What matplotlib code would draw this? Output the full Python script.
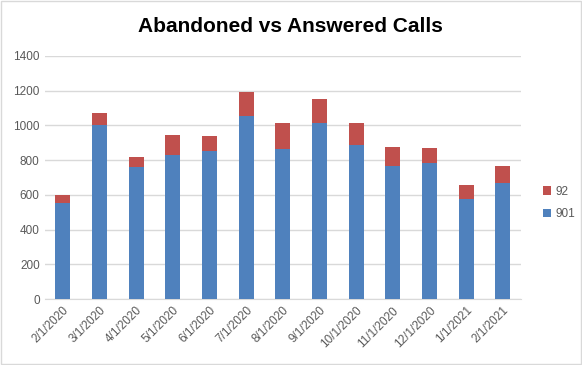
import matplotlib.pyplot as plt
import numpy as np

# monthly call counts
months = ['2/1/2020', '3/1/2020', '4/1/2020', '5/1/2020', '6/1/2020', '7/1/2020', '8/1/2020',
          '9/1/2020', '10/1/2020', '11/1/2020', '12/1/2020', '1/1/2021', '2/1/2021']
calls_901 = [553, 1002, 760, 830, 853, 1056, 864, 1014, 887, 768, 784, 576, 668]
calls_92 = [46, 71, 58, 115, 86, 137, 150, 138, 127, 108, 86, 81, 98]

plt.rcParams['font.family'] = ['Liberation Sans', 'DejaVu Sans']

fig = plt.figure(figsize=(5.82, 3.65), dpi=100)
ax = fig.add_axes([44.6 / 582, 1 - 299 / 365, (521 - 44.6) / 582, (299 - 56) / 365])

x = np.arange(len(months))
b1 = ax.bar(x, calls_901, width=0.41, color='#4f81bd', label='901', zorder=3)
b2 = ax.bar(x, calls_92, width=0.41, bottom=calls_901, color='#c0504d', label='92', zorder=3)

ax.set_ylim(0, 1400)
ax.set_xlim(-0.5, len(months) - 0.5)
ax.set_yticks(range(0, 1401, 200))
ax.set_xticks(x)
ax.set_xticklabels(months, rotation=45, ha='right', rotation_mode='anchor')
ax.tick_params(axis='both', length=0, colors='#595959', labelsize=8.5)
ax.tick_params(axis='x', pad=4)
ax.grid(axis='y', color='#d9d9d9', linewidth=1, zorder=0)
for s in ['top', 'right', 'left']:
    ax.spines[s].set_visible(False)
ax.spines['bottom'].set_color('#d9d9d9')

fig.text(290 / 582, 1 - 27 / 365, 'Abandoned vs Answered Calls', ha='center', va='center',
         fontsize=15, fontweight='bold', color='black')

fig.legend(handles=[b2, b1], labels=['92', '901'], loc='center left',
           bbox_to_anchor=(532 / 582, 1 - 203 / 365), frameon=False,
           handlelength=0.7, handleheight=0.7, handletextpad=0.4, labelspacing=0.9,
           fontsize=8.5, labelcolor='#595959')

fig.patches.append(plt.Rectangle((0.002, 0.003), 0.996, 0.994, transform=fig.transFigure,
                                 fill=False, edgecolor='#d9d9d9', linewidth=1))

fig.savefig('out.png', dpi=100)
